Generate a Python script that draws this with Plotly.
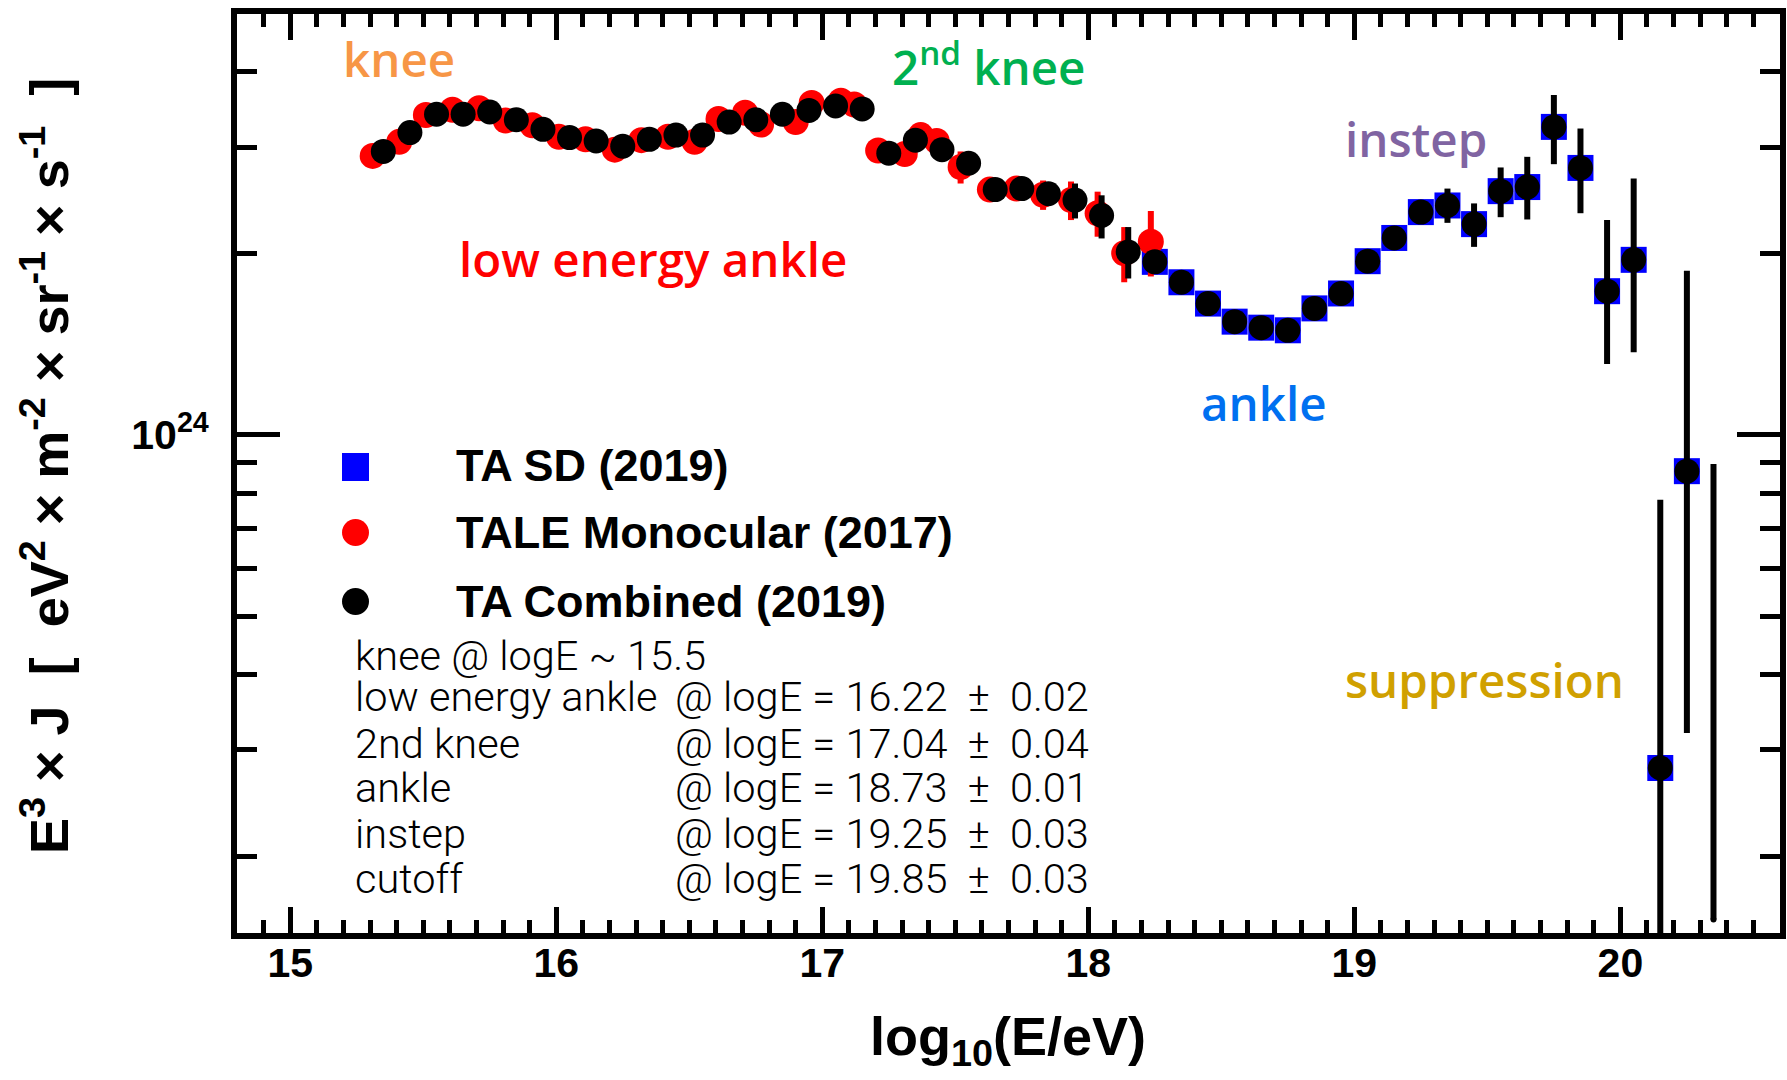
import plotly.graph_objects as go

# ---------------------------------------------------------------
# Cosmic-ray energy spectrum, E^3 x J in units of 1e24 eV^2 m^-2 sr^-1 s^-1
# ---------------------------------------------------------------

# TA Combined (2019)
comb_logE = [15.35, 15.45, 15.55, 15.65, 15.75, 15.85, 15.95, 16.05, 16.15, 16.25,
             16.35, 16.45, 16.55, 16.65, 16.75, 16.85, 16.95, 17.05, 17.15,
             17.25, 17.35, 17.45, 17.55, 17.65, 17.75, 17.85, 17.95, 18.05, 18.15,
             18.25, 18.35, 18.45, 18.55, 18.65, 18.75, 18.85, 18.95, 19.05, 19.15,
             19.25, 19.35, 19.45, 19.55, 19.65, 19.75, 19.85, 19.95, 20.05, 20.15,
             20.25]
comb_flux = [2.95, 3.17, 3.40, 3.40, 3.43, 3.33, 3.21, 3.11, 3.07, 3.01,
             3.09, 3.14, 3.14, 3.30, 3.33, 3.40, 3.45, 3.51, 3.47,
             2.93, 3.08, 2.97, 2.82, 2.55, 2.56, 2.51, 2.45, 2.31, 2.01,
             1.935, 1.79, 1.65, 1.54, 1.505, 1.49, 1.62, 1.715, 1.94, 2.12,
             2.34, 2.40, 2.235, 2.535, 2.575, 3.24, 2.77, 1.73, 1.95, 0.28,
             0.87]
comb_err_up = [0, 0, 0, 0, 0, 0, 0, 0, 0, 0,
               0, 0, 0, 0, 0, 0, 0, 0, 0,
               0, 0, 0, 0, 0, 0, 0, 0.16, 0.185, 0.20,
               0, 0, 0, 0, 0, 0, 0, 0, 0, 0,
               0, 0.16, 0.184, 0.24, 0.315, 0.42, 0.45, 0.54, 0.71, 0.50,
               1.00]
comb_err_dn = [0, 0, 0, 0, 0, 0, 0, 0, 0, 0,
               0, 0, 0, 0, 0, 0, 0, 0, 0,
               0, 0, 0, 0, 0, 0, 0, 0.166, 0.194, 0.194,
               0, 0, 0, 0, 0, 0, 0, 0, 0, 0,
               0, 0.154, 0.186, 0.24, 0.30, 0.43, 0.44, 0.42, 0.58, 0.20,
               0.55]
# last bin: central value below the plotted range, only its error bar is visible
comb_limit_logE = [20.35]
comb_limit_low = [0.157]
comb_limit_high = [0.894]

# TALE Monocular (2017)
tale_logE = [15.31, 15.41, 15.51, 15.61, 15.71, 15.81, 15.91, 16.01, 16.11, 16.22,
             16.32, 16.42, 16.52, 16.61, 16.71, 16.77, 16.90, 16.96, 17.07, 17.12,
             17.21, 17.31, 17.37, 17.43, 17.52, 17.63, 17.73, 17.83, 17.935, 18.035,
             18.135, 18.235]
tale_flux = [2.90, 3.06, 3.39, 3.46, 3.48, 3.32, 3.26, 3.12, 3.09, 2.97,
             3.08, 3.12, 3.06, 3.34, 3.42, 3.27, 3.30, 3.55, 3.58, 3.53,
             2.96, 2.92, 3.14, 3.07, 2.78, 2.55, 2.56, 2.50, 2.45, 2.33,
             2.00, 2.09]
tale_err = [0, 0, 0, 0, 0, 0, 0, 0, 0, 0,
            0, 0, 0, 0, 0, 0, 0, 0, 0, 0,
            0, 0, 0, 0, 0.17, 0, 0, 0.14, 0.18, 0.20,
            0.21, 0.26]

# TA SD (2019)
sd_logE = [18.25, 18.35, 18.45, 18.55, 18.65, 18.75, 18.85, 18.95, 19.05, 19.15,
           19.25, 19.35, 19.45, 19.55, 19.65, 19.75, 19.85, 19.95, 20.05, 20.15,
           20.25]
sd_flux = [1.935, 1.79, 1.65, 1.54, 1.505, 1.49, 1.62, 1.715, 1.94, 2.12,
           2.34, 2.40, 2.235, 2.535, 2.575, 3.24, 2.77, 1.73, 1.95, 0.28,
           0.87]

UNIT = 1e24

legend_names = ["TA SD (2019)", "TALE Monocular (2017)", "TA Combined (2019)"]
feature_labels = ["knee", "2<sup>nd</sup> knee", "low energy ankle", "instep", "ankle", "suppression"]
fit_names = ["low energy ankle", "2nd knee", "ankle", "instep", "cutoff"]
fit_values = ["@ logE = 16.22 \u00b1 0.02", "@ logE = 17.04 \u00b1 0.04",
              "@ logE = 18.73 \u00b1 0.01", "@ logE = 19.25 \u00b1 0.03",
              "@ logE = 19.85 \u00b1 0.03"]
knee_note = "knee @ logE ~ 15.5"
x_tick_vals = [15, 16, 17, 18, 19, 20]
x_tick_text = ["15", "16", "17", "18", "19", "20"]
x_title = "log<sub>10</sub>(E/eV)"
y_title = ("E<sup>3</sup> \u00d7 J  [  eV<sup>2</sup> \u00d7 m<sup>-2</sup> \u00d7 "
           "sr<sup>-1</sup> \u00d7 s<sup>-1</sup>  ]")

# ---------------------------------------------------------------
W, H = 1787, 1080
ML, MR, MT, MB = 237, 7, 14, 147


def px(x):
    return (x - ML) / (W - ML - MR)


def py(y):
    return (H - MB - y) / (H - MT - MB)


BOLD = "Liberation Sans, Arial, Helvetica, sans-serif"

fig = go.Figure()

fig.add_trace(go.Scatter(
    x=sd_logE, y=[v * UNIT for v in sd_flux], mode="markers",
    marker=dict(symbol="square", size=26, color="#0000ff", line=dict(width=0)),
    name=legend_names[0], showlegend=False,
))

fig.add_trace(go.Scatter(
    x=tale_logE, y=[v * UNIT for v in tale_flux], mode="markers",
    marker=dict(symbol="circle", size=26, color="#ff0000", line=dict(width=0)),
    error_y=dict(type="data", array=[e * UNIT for e in tale_err], symmetric=True,
                 color="#ff0000", thickness=6, width=0),
    name=legend_names[1], showlegend=False,
))

fig.add_trace(go.Scatter(
    x=comb_logE, y=[v * UNIT for v in comb_flux], mode="markers",
    marker=dict(symbol="circle", size=25, color="#000000", line=dict(width=0)),
    error_y=dict(type="data", symmetric=False,
                 array=[e * UNIT for e in comb_err_up],
                 arrayminus=[e * UNIT for e in comb_err_dn],
                 color="#000000", thickness=6, width=0),
    name=legend_names[2], showlegend=False,
))

fig.add_trace(go.Scatter(
    x=comb_limit_logE, y=[v * UNIT for v in comb_limit_low], mode="markers",
    marker=dict(size=0, color="#000000"),
    error_y=dict(type="data", symmetric=False,
                 array=[(h - l) * UNIT for h, l in zip(comb_limit_high, comb_limit_low)],
                 arrayminus=[0], color="#000000", thickness=6, width=0),
    showlegend=False, hoverinfo="skip",
))

# legend symbols
shapes = [
    dict(type="rect", xref="paper", yref="paper", x0=px(342), x1=px(369), y0=py(481), y1=py(453),
         fillcolor="#0000ff", line=dict(width=0)),
    dict(type="circle", xref="paper", yref="paper", x0=px(342), x1=px(369), y0=py(546), y1=py(519),
         fillcolor="#ff0000", line=dict(width=0)),
    dict(type="circle", xref="paper", yref="paper", x0=px(342), x1=px(369), y0=py(615), y1=py(588),
         fillcolor="#000000", line=dict(width=0)),
]

annotations = []


def note(text, x, y, size, color="#000000", family=BOLD, weight="normal",
         xanchor="left", yanchor="middle", angle=0):
    annotations.append(dict(
        text=text, x=px(x), y=py(y), xref="paper", yref="paper",
        xanchor=xanchor, yanchor=yanchor, showarrow=False, textangle=angle,
        font=dict(family=family, size=size, color=color, weight=weight),
    ))


# legend text
for name, yc in zip(legend_names, [466, 532, 601]):
    note(name, 454, yc, 45, weight="bold")

# feature labels
LABEL_FONT = "Open Sans, Noto Sans, sans-serif"
label_pos = [(341, 59, "#f79646"), (890, 64, "#00b050"), (457, 259, "#ff0000"),
             (1343, 139, "#8064a2"), (1199, 402, "#0070f0"), (1343, 679, "#d0a000")]
for text, (x, y, c) in zip(feature_labels, label_pos):
    note(text, x, y, 47.5, color=c, family=LABEL_FONT, weight=600)

# fitted break points
LIGHT = "Roboto, Lato, sans-serif"
note(knee_note, 353, 655, 41.5, family=LIGHT, weight=300)
for name, val, yc in zip(fit_names, fit_values, [697, 743, 787, 833, 878]):
    note(name, 353, yc, 41.5, family=LIGHT, weight=300)
    note(val.replace(" \u00b1 ", " \u00a0\u00b1\u00a0 "), 673, yc, 41.5, family=LIGHT, weight=300)

# axis titles
note(x_title, 1008, 1040, 54, weight="bold", xanchor="center")
note(y_title, 45, 466, 54, weight="bold", xanchor="center", angle=-90)

axis_common = dict(
    showline=True, linecolor="#000000", linewidth=6, mirror="ticks",
    ticks="inside", tickcolor="#000000", tickwidth=5,
    showgrid=False, zeroline=False,
    tickfont=dict(family=BOLD, size=41, color="#000000", weight="bold"),
)

fig.update_layout(
    width=W, height=H,
    margin=dict(l=ML, r=MR, t=MT, b=MB, autoexpand=False),
    paper_bgcolor="#ffffff", plot_bgcolor="#ffffff",
    showlegend=False,
    xaxis=dict(range=[14.8, 20.6], tickmode="array", tickvals=x_tick_vals, ticktext=x_tick_text,
               ticklen=26, ticklabelstandoff=-11,
               minor=dict(dtick=0.1, tick0=0, ticks="inside", ticklen=13, tickwidth=5,
                          tickcolor="#000000", showgrid=False),
               **axis_common),
    yaxis=dict(type="log", range=[23.1735, 24.6978], tickmode="array",
               tickvals=[1e24], ticktext=["10<sup>24</sup>"], ticklen=43,
               ticklabelstandoff=14,
               minor=dict(tickmode="array",
                          tickvals=[2e23, 3e23, 4e23, 5e23, 6e23, 7e23, 8e23, 9e23, 2e24, 3e24, 4e24],
                          ticks="inside", ticklen=20, tickwidth=5, tickcolor="#000000",
                          showgrid=False),
               **axis_common),
    shapes=shapes,
    annotations=annotations,
)

fig.write_html("out.html")
